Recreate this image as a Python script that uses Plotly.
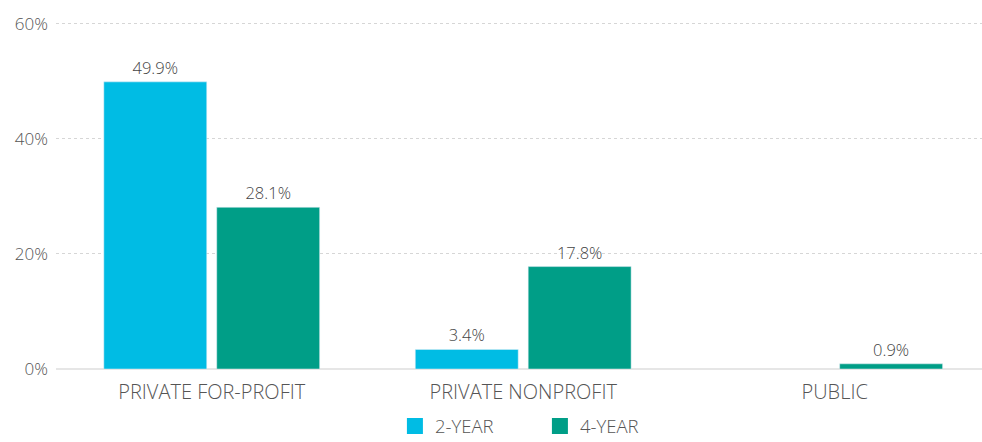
import plotly.graph_objects as go

# Share of students by sector and institution level
sectors = ['PRIVATE FOR-PROFIT', 'PRIVATE NONPROFIT', 'PUBLIC']
two_year = [49.9, 3.4, None]
four_year = [28.1, 17.8, 0.9]
y_ticks = [0, 20, 40, 60]

cyan = '#00BCE4'
teal = '#009E87'
font = 'Open Sans, Lato, sans-serif'

fig = go.Figure()

fig.add_trace(go.Bar(
    x=sectors, y=two_year, name='2-YEAR', marker_color=cyan,
    text=[f'{v}%' if v is not None else '' for v in two_year],
    textposition='outside', cliponaxis=False, showlegend=False,
    textfont=dict(size=16.5, color='#444', weight=300)
))
fig.add_trace(go.Bar(
    x=sectors, y=four_year, name='4-YEAR', marker_color=teal,
    text=[f'{v}%' for v in four_year],
    textposition='outside', cliponaxis=False, showlegend=False,
    textfont=dict(size=16.5, color='#444', weight=300)
))

# legend entries with larger square swatches
for name, col in [('2-YEAR', cyan), ('4-YEAR', teal)]:
    fig.add_trace(go.Scatter(
        x=[None], y=[None], mode='markers', name=name,
        marker=dict(symbol='square', size=18, color=col)
    ))

fig.update_layout(
    width=982, height=442,
    margin=dict(l=56, r=0, t=18, b=73),
    plot_bgcolor='white', paper_bgcolor='white',
    font=dict(family=font, color='#555', size=15, weight=300),
    barmode='group', bargap=0.275, bargroupgap=0.0885,
    showlegend=True,
    legend=dict(orientation='h', x=0.366, xanchor='left',
                yref='container', y=0.035, yanchor='middle',
                entrywidth=100, entrywidthmode='pixels',
                font=dict(size=18.5, color='#555', weight=300),
                itemwidth=30, tracegroupgap=0)
)

fig.update_xaxes(
    range=[-0.5, 2.473], showgrid=False, showline=False, ticks='',
    ticklabelstandoff=9, automargin=False,
    tickfont=dict(size=20, color='#555', weight=300)
)
fig.update_yaxes(
    range=[0, 61], tickvals=y_ticks, ticktext=[f'{t}%' for t in y_ticks],
    showgrid=True, gridcolor='#d6d6d6', griddash='dot', gridwidth=1,
    zeroline=True, zerolinecolor='#e6e6e6', zerolinewidth=2,
    ticks='', ticklen=0, ticklabelstandoff=7, automargin=False,
    tickfont=dict(size=17, color='#555', weight=300)
)

fig.write_html('out.html', config={'displayModeBar': False},
               post_script="document.body.style.margin='0';")
